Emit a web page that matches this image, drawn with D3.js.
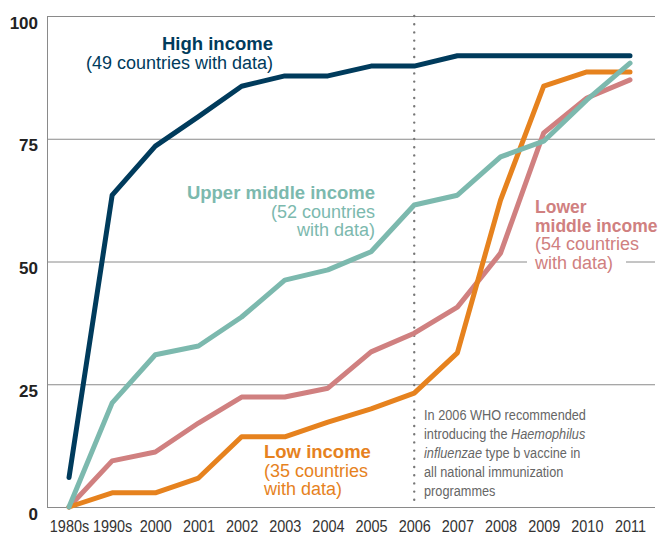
<!DOCTYPE html>
<html>
<head>
<meta charset="utf-8">
<script src="https://cdn.jsdelivr.net/npm/d3@7"></script>
<style>
  body { margin: 0; background: #fff; }
  svg { display: block; }
  text { font-family: "Liberation Sans", Arial, sans-serif; }
</style>
</head>
<body>
<svg id="chart" width="668" height="535"></svg>
<script>
// ---- Dados
const years = ['1980s', '1990s', '2000', '2001', '2002', '2003', '2004', '2005', '2006', '2007', '2008', '2009', '2010', '2011'];
const highIncome   = [6, 63.5, 73.5, 79.5, 85.7, 87.8, 87.8, 89.8, 89.8, 91.9, 91.9, 91.9, 91.9, 91.9];
const upperMiddle  = [0, 21.2, 31, 32.8, 38.7, 46.2, 48.3, 52, 61.5, 63.5, 71.3, 74.5, 82.9, 90.4];
const lowerMiddle  = [0, 9.4, 11.2, 17.1, 22.4, 22.4, 24.2, 31.6, 35.4, 40.7, 51.7, 76.2, 83.3, 87];
const lowIncome    = [0, 2.9, 2.9, 5.9, 14.3, 14.3, 17.3, 20, 23.2, 31.4, 62.5, 85.7, 88.6, 88.6];
const yTicks = [0, 25, 50, 75, 100];
const whoYear = '2006';

const colors = { high: '#003b5c', upper: '#7cb9ae', lower: '#d08080', low: '#e6821e' };

const svg = d3.select('#chart');

// ---- Escalas
const x = d3.scalePoint().domain(years).range([69, 630]);
const y = d3.scaleLinear().domain([0, 100]).range([507, 16]);
const left = 47, right = 655;

// ---- Eixo Y + grade
svg.append('g')
    .attr('transform', `translate(${left},0)`)
    .call(d3.axisLeft(y).tickValues(yTicks).tickSize(-(right - left)).tickSizeOuter(0))
    .call(g => g.select('.domain').attr('stroke', '#8a8a8a'))
    .call(g => g.selectAll('.tick line').attr('stroke', '#8a8a8a'))
    .call(g => g.selectAll('.tick text')
        .attr('x', -9).attr('dy', 12)
        .attr('fill', '#222')
        .style('font', 'bold 17px "Liberation Sans", Arial, sans-serif'));

// ---- Eixo X (fonte estreitada)
svg.append('g')
    .attr('transform', `translate(0,${y(0)})`)
    .call(d3.axisBottom(x).tickSize(0))
    .call(g => g.select('.domain').remove())
    .call(g => g.selectAll('.tick text')
        .attr('y', 0).attr('dy', 0)
        .attr('transform', 'translate(0,25) scale(0.85,1)')
        .attr('fill', '#333')
        .style('font', '17px "Liberation Sans", Arial, sans-serif'));

// ---- Linha pontilhada 2006
svg.append('line')
    .attr('x1', x(whoYear)).attr('x2', x(whoYear))
    .attr('y1', y(100)).attr('y2', y(0))
    .attr('stroke', '#777')
    .attr('stroke-width', 2.4)
    .attr('stroke-linecap', 'round')
    .attr('stroke-dasharray', '0,8.2');

// ---- Fundo branco do rótulo lower middle
svg.append('rect')
    .attr('x', 527).attr('y', 196).attr('width', 99).attr('height', 78)
    .attr('fill', '#fff');

// ---- Linhas
const line = d3.line()
    .x((d, i) => x(years[i]))
    .y(d => y(d));

const series = [
    { values: lowerMiddle, color: colors.lower },
    { values: lowIncome, color: colors.low },
    { values: upperMiddle, color: colors.upper },
    { values: highIncome, color: colors.high }
];

svg.selectAll('path.series')
    .data(series)
    .join('path')
    .attr('class', 'series')
    .attr('d', d => line(d.values))
    .attr('fill', 'none')
    .attr('stroke', d => d.color)
    .attr('stroke-width', 5)
    .attr('stroke-linejoin', 'round')
    .attr('stroke-linecap', 'round');

// ---- Rótulos
function label(lines, xPos, yPos, anchor, color, boldSize = 18.5) {
    lines.forEach((l, i) => {
        svg.append('text')
            .attr('text-anchor', anchor)
            .attr('fill', color)
            .attr('x', xPos)
            .attr('y', yPos + i * 18.7)
            .style('font-weight', l.bold ? 'bold' : 'normal')
            .style('font-size', l.bold ? boldSize + 'px' : '18px')
            .text(l.text);
    });
}

label([{ text: 'High income', bold: true }, { text: '(49 countries with data)' }], 273, 50, 'end', colors.high);
label([{ text: 'Upper middle income', bold: true }, { text: '(52 countries' }, { text: 'with data)' }], 375, 199, 'end', colors.upper);
label([{ text: 'Lower', bold: true }, { text: 'middle income', bold: true }, { text: '(54 countries' }, { text: 'with data)' }], 535, 213, 'start', colors.lower, 17.5);
label([{ text: 'Low income', bold: true }, { text: '(35 countries' }, { text: 'with data)' }], 264, 458, 'start', colors.low);

// ---- Nota OMS
const noteG = svg.append('g');
const note = noteG.append('text')
    .attr('fill', '#666')
    .style('font-size', '15px');
const noteLines = [
    [['In 2006 WHO recommended', false]],
    [['introducing the ', false], ['Haemophilus', true]],
    [['influenzae', true], [' type b vaccine in', false]],
    [['all national immunization', false]],
    [['programmes', false]]
];
noteLines.forEach((parts, i) => {
    parts.forEach(([txt, it], j) => {
        const s = note.append('tspan')
            .style('font-style', it ? 'italic' : 'normal')
            .text(txt);
        if (j === 0) s.attr('x', 0).attr('y', 420 + i * 19);
    });
});
// estreitar para a largura da nota original
const firstW = note.select('tspan').node().getComputedTextLength();
noteG.attr('transform', `translate(424,0) scale(${162 / firstW},1)`);
</script>
</body>
</html>
